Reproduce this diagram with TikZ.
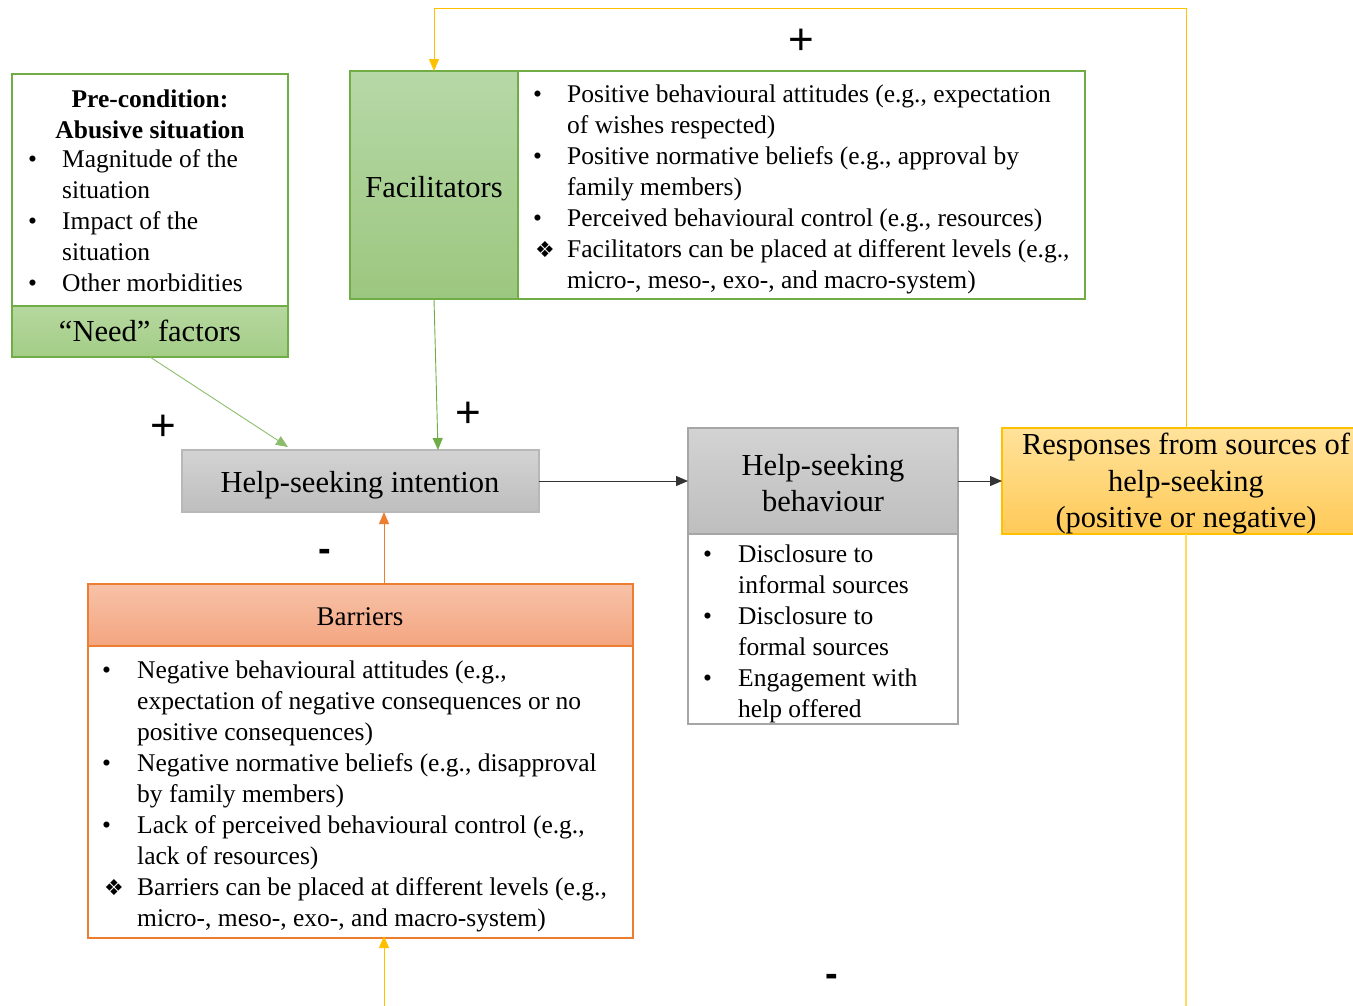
\documentclass[tikz,border=0pt]{standalone}
\usepackage{fontspec}
\setmainfont{Liberation Serif}
\newfontfamily\djv{DejaVu Sans}
\newfontfamily\arialf{Liberation Sans}
\usetikzlibrary{arrows.meta}
\definecolor{grn}{HTML}{70AD47}
\definecolor{grnA}{HTML}{B6D8A7}
\definecolor{grnB}{HTML}{9CC77F}
\definecolor{grnN}{HTML}{A9D18E}
\definecolor{gryline}{HTML}{A6A6A6}
\definecolor{gryA}{HTML}{D3D3D3}
\definecolor{gryB}{HTML}{BEBEBE}
\definecolor{org}{HTML}{ED7D31}
\definecolor{orgA}{HTML}{F7C2A8}
\definecolor{orgB}{HTML}{F4A580}
\definecolor{yel}{HTML}{FFC000}
\definecolor{yelA}{HTML}{FFE29A}
\definecolor{yelB}{HTML}{FFCA58}
\definecolor{yelline}{HTML}{FFD966}
\newcommand{\lstfont}{\fontsize{25.5pt}{31pt}\selectfont}
\newcommand{\ttlfont}{\fontsize{30.5pt}{36.5pt}\selectfont}
\newcommand{\dia}{\hspace*{2pt}{\djv\fontsize{22pt}{31pt}\selectfont ❖}}
\tikzset{
  boxnw/.style={anchor=north west, inner sep=0pt, outer sep=0pt},
  listnode/.style={anchor=base west, inner sep=0pt, font=\lstfont},
  ttlnode/.style={anchor=center, inner sep=0pt, align=center, font=\ttlfont},
  sign/.style={inner sep=0pt, font=\arialf\fontsize{44pt}{44pt}\selectfont},
  minus/.style={inner sep=0pt, font=\arialf\bfseries\fontsize{38pt}{38pt}\selectfont},
  tip/.style={-{Triangle[length=12pt,width=10pt]}},
}
\begin{document}
\begin{tikzpicture}[x=1pt,y=-1pt]
\useasboundingbox (0,0) rectangle (1353,1005);

% ---- Need box
\node[boxnw, draw=grn, line width=1.5pt, fill=white, minimum width=276pt, minimum height=232pt] (needtop) at (12,74) {};
\node[boxnw, draw=grn, line width=1.5pt, top color=grnN!85!white, bottom color=grnN!90!grn, minimum width=276pt, minimum height=51pt] (needbot) at (12,306) {};
\node[ttlnode, font=\lstfont\bfseries] (needttl) at (150,114.5) {Pre-condition:\\Abusive situation};
\node[listnode] (needlist) at (28,167) {\begin{tabular}[t]{@{}p{34pt}@{}l@{}}
• & Magnitude of the\\
  & situation\\
• & Impact of the\\
  & situation\\
• & Other morbidities
\end{tabular}};
\node[ttlnode] (needlbl) at (150,331) {“Need” factors};

% ---- Facilitators
\node[boxnw, draw=grn, line width=1.5pt, top color=grnA, bottom color=grnB, minimum width=168pt, minimum height=228pt] (faclbox) at (350,71) {};
\node[boxnw, draw=grn, line width=1.5pt, fill=white, minimum width=567pt, minimum height=228pt] (facrbox) at (518,71) {};
\node[ttlnode] (facttl) at ([yshift=-2pt]faclbox.center) {Facilitators};
\node[listnode] (faclist) at (533,102) {\begin{tabular}[t]{@{}p{34pt}@{}l@{}}
• & Positive behavioural attitudes (e.g., expectation\\
  & of wishes respected)\\
• & Positive normative beliefs (e.g., approval by\\
  & family members)\\
• & Perceived behavioural control (e.g., resources)\\
\dia & Facilitators can be placed at different levels (e.g.,\\
  & micro-, meso-, exo-, and macro-system)
\end{tabular}};

% ---- Help-seeking intention
\node[boxnw, draw=gryline!80!white, line width=1.2pt, top color=gryA, bottom color=gryB, minimum width=357pt, minimum height=62pt] (intent) at (182,450) {};
\node[ttlnode] (intentttl) at (360,485) {Help-seeking intention};

% ---- Help-seeking behaviour
\node[boxnw, draw=gryline, line width=1.5pt, top color=gryA, bottom color=gryB, minimum width=270pt, minimum height=106pt] (behtop) at (688,428) {};
\node[boxnw, draw=gryline, line width=1.5pt, fill=white, minimum width=270pt, minimum height=190pt] (behbot) at (688,534) {};
\node[ttlnode] (behttl) at (823,483) {Help-seeking\\behaviour};
\node[listnode] (behlist) at (703,562) {\begin{tabular}[t]{@{}p{35pt}@{}l@{}}
• & Disclosure to\\
  & informal sources\\
• & Disclosure to\\
  & formal sources\\
• & Engagement with\\
  & help offered
\end{tabular}};

% ---- Responses
\node[boxnw, draw=yel, line width=1.2pt, top color=yelA, bottom color=yelB, minimum width=368pt, minimum height=106pt] (resp) at (1002,428) {};
\node[ttlnode] (respttl) at (1186,484) {Responses from sources of\\help-seeking\\(positive or negative)};

% ---- Barriers
\node[boxnw, draw=org, line width=1.5pt, top color=orgA, bottom color=orgB, minimum width=545pt, minimum height=62pt] (barhead) at (88,584) {};
\node[boxnw, draw=org, line width=1.5pt, fill=white, minimum width=545pt, minimum height=292pt] (barbody) at (88,646) {};
\node[ttlnode, font=\fontsize{27pt}{32pt}\selectfont] (barttl) at (360,617) {Barriers};
\node[listnode] (barlist) at (102,678) {\begin{tabular}[t]{@{}p{35pt}@{}l@{}}
• & Negative behavioural attitudes (e.g.,\\
  & expectation of negative consequences or no\\
  & positive consequences)\\
• & Negative normative beliefs (e.g., disapproval\\
  & by family members)\\
• & Lack of perceived behavioural control (e.g.,\\
  & lack of resources)\\
\dia & Barriers can be placed at different levels (e.g.,\\
  & micro-, meso-, exo-, and macro-system)
\end{tabular}};

% ---- helper coordinates
\coordinate (topy) at (0,8);
\coordinate (boty) at (0,1012);
\coordinate (botin) at (384,1012);

% ---- connectors
\draw[tip, grn!80!white, line width=0.9pt] (needbot.south) -- ([xshift=106pt,yshift=3pt]intent.north west);
\draw[tip, grn, line width=0.9pt] (faclbox.south) -- ([xshift=256pt]intent.north west);
\draw[tip, org, line width=0.9pt] ([xshift=296pt]barhead.north west) -- ([xshift=202pt]intent.south west);
\draw[tip, black!80, line width=1pt] (intent.east) -- (behtop.west);
\draw[tip, black!80, line width=1pt] (behtop.east) -- (resp.west);
\draw[tip, yel, line width=0.9pt] (resp.north) -- (resp.north |- topy) -| (faclbox.north);
\draw[yelline, line width=1.2pt] (resp.south) -- (resp.south |- boty);
\draw[tip, yel, line width=0.9pt] (botin) -- ([yshift=2pt]barbody.south -| botin);

% ---- signs
\node[sign] (p1) at (801,42) {+};
\node[sign] (p2) at (163,428) {+};
\node[sign] (p3) at (468,415) {+};
\node[minus] (m1) at (325,555) {-};
\node[minus] (m2) at (832,980) {-};
\end{tikzpicture}
\end{document}
